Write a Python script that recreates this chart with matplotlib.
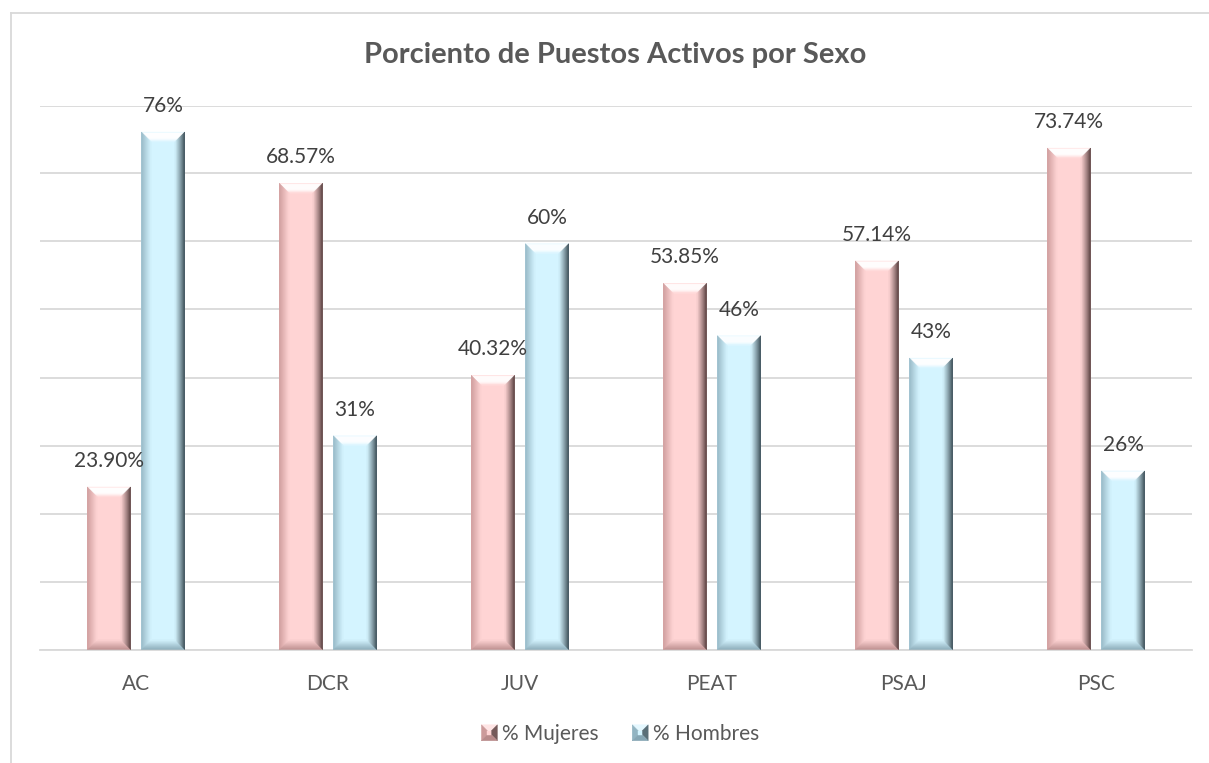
import numpy as np
import matplotlib.pyplot as plt
import matplotlib.colors as mcolors
from matplotlib.patches import Polygon
from matplotlib.lines import Line2D
from matplotlib.legend_handler import HandlerBase

###############################################################################
### Datos
###############################################################################

categorias = ['AC', 'DCR', 'JUV', 'PEAT', 'PSAJ', 'PSC']
mujeres = [23.90, 68.57, 40.32, 53.85, 57.14, 73.74]
hombres = [76.10, 31.43, 59.68, 46.15, 42.86, 26.26]
etiq_mujeres = ['23.90%', '68.57%', '40.32%', '53.85%', '57.14%', '73.74%']
etiq_hombres = ['76%', '31%', '60%', '46%', '43%', '26%']

# colores del bisel: cara, arriba, izquierda, derecha, abajo
col_muj = dict(face='#FFD4D4', top='#FFFFFF', left='#CC9A9A', right='#3A2626', bottom='#B88A8A')
col_hom = dict(face='#D4F4FF', top='#FFFFFF', left='#92B4C2', right='#26363E', bottom='#86A6B4')

plt.rcParams['font.family'] = ['Lato', 'DejaVu Sans']
gris = '#595959'
grid_col = '#D9D9D9'

fig = plt.figure(figsize=(12.09, 7.63), dpi=100)
W, H = 1209, 763
ax = fig.add_axes([40 / W, 1 - 649.5 / H, 1152 / W, 544 / H])

x = np.arange(len(categorias))
ancho = 0.226
desp = 0.141

b1 = ax.bar(x - desp, mujeres, ancho, color=col_muj['face'], zorder=2)
b2 = ax.bar(x + desp, hombres, ancho, color=col_hom['face'], zorder=2)

ax.set_xlim(-0.5, 5.5)
ax.set_ylim(0, 80)
ax.set_yticks(np.arange(0, 81, 10))
ax.yaxis.grid(True, color=grid_col, linewidth=1.3)
ax.set_axisbelow(True)
ax.tick_params(axis='y', left=False, labelleft=False)
ax.tick_params(axis='x', bottom=False, labelsize=15, labelcolor=gris, pad=14)
ax.set_xticks(x)
ax.set_xticklabels(categorias)
for s in ['top', 'right', 'left']:
    ax.spines[s].set_visible(False)
ax.spines['bottom'].set_color(grid_col)
ax.spines['bottom'].set_linewidth(1.3)


def mezcla(c1, c2, f):
    a = np.array(mcolors.to_rgb(c1))
    b = np.array(mcolors.to_rgb(c2))
    return tuple(a * (1 - f) + b * f)


def bisel(ax, rect, cols, b_px=10, n=10):
    bb = ax.get_window_extent()
    sx = (ax.get_xlim()[1] - ax.get_xlim()[0]) / bb.width
    sy = (ax.get_ylim()[1] - ax.get_ylim()[0]) / bb.height
    x0, y0 = rect.get_x(), rect.get_y()
    x1, y1 = x0 + rect.get_width(), y0 + rect.get_height()
    for k in range(n):
        t0, t1 = k / n, (k + 1) / n
        ox, oy = b_px * sx * t0, b_px * sy * t0
        ix, iy = b_px * sx * t1, b_px * sy * t1
        f = (k + 0.5) / n
        lados = {
            'top': [(x0 + ox, y1 - oy), (x1 - ox, y1 - oy), (x1 - ix, y1 - iy), (x0 + ix, y1 - iy)],
            'bottom': [(x0 + ox, y0 + oy), (x1 - ox, y0 + oy), (x1 - ix, y0 + iy), (x0 + ix, y0 + iy)],
            'left': [(x0 + ox, y0 + oy), (x0 + ox, y1 - oy), (x0 + ix, y1 - iy), (x0 + ix, y0 + iy)],
            'right': [(x1 - ox, y0 + oy), (x1 - ox, y1 - oy), (x1 - ix, y1 - iy), (x1 - ix, y0 + iy)],
        }
        for lado, pts in lados.items():
            if lado == 'top':
                if k == 0:
                    c = mezcla(cols['face'], '#FFFFFF', 0.5)
                else:
                    c = mezcla(cols['top'], cols['face'], max(0, (f - 0.6) / 0.4) ** 1.5)
            elif lado == 'right':
                c = mezcla(cols['right'], cols['face'], f ** 0.8)
            else:
                c = mezcla(cols[lado], cols['face'], f)
            ax.add_patch(Polygon(pts, closed=True, facecolor=c, edgecolor=c,
                                 linewidth=0.3, zorder=3))


for r in b1:
    bisel(ax, r, col_muj)
for r in b2:
    bisel(ax, r, col_hom)

# etiquetas de datos
for xi, v, t in zip(x - desp, mujeres, etiq_mujeres):
    ax.annotate(t, (xi, v), xytext=(0, 26), textcoords='offset pixels',
                ha='center', va='center', fontsize=15, color='#404040', zorder=5)
for xi, v, t in zip(x + desp, hombres, etiq_hombres):
    ax.annotate(t, (xi, v), xytext=(0, 26), textcoords='offset pixels',
                ha='center', va='center', fontsize=15, color='#404040', zorder=5)

fig.text(615 / W, 1 - 55 / H, 'Porciento de Puestos Activos por Sexo',
         ha='center', va='center', fontsize=21, fontweight='bold', color=gris)


class HandlerBisel(HandlerBase):
    def create_artists(self, legend, orig_handle, xdescent, ydescent,
                       width, height, fontsize, trans):
        cols = orig_handle.cols
        s = min(width, height)
        x0 = -xdescent + (width - s) / 2
        y0 = -ydescent + (height - s) / 2
        x1, y1 = x0 + s, y0 + s
        cx, cy = x0 + s / 2, y0 + s / 2
        g = s * 0.12
        tris = [
            ([(x0, y1), (x1, y1), (cx + g, cy + g), (cx - g, cy + g)], mezcla(cols['face'], '#FFFFFF', 0.4)),
            ([(x0, y0), (x0, y1), (cx - g, cy + g), (cx - g, cy - g)], cols['left']),
            ([(x1, y0), (x1, y1), (cx + g, cy + g), (cx + g, cy - g)], mezcla(cols['right'], cols['face'], 0.3)),
            ([(x0, y0), (x1, y0), (cx + g, cy - g), (cx - g, cy - g)], cols['bottom']),
            ([(cx - g, cy - g), (cx + g, cy - g), (cx + g, cy + g), (cx - g, cy + g)], cols['face']),
        ]
        arts = []
        for pts, c in tris:
            p = Polygon(pts, closed=True, facecolor=c, edgecolor=c, linewidth=0.3, transform=trans)
            arts.append(p)
        return arts


class Marca:
    def __init__(self, cols):
        self.cols = cols


h1, h2 = Marca(col_muj), Marca(col_hom)
fig.legend([h1, h2], ['% Mujeres', '% Hombres'],
           handler_map={Marca: HandlerBisel()},
           loc='center', bbox_to_anchor=(620 / W, 1 - 734 / H), ncol=2,
           frameon=False, fontsize=15, labelcolor=gris,
           handlelength=0.8, handleheight=0.8, handletextpad=0.2, columnspacing=1.6)

# marco del grafico (solo borde superior e izquierdo visibles)
fig.add_artist(Line2D([10.5 / W, 10.5 / W], [0, 1 - 12.5 / H], color=grid_col, linewidth=1.3))
fig.add_artist(Line2D([10.5 / W, 1], [1 - 12.5 / H, 1 - 12.5 / H], color=grid_col, linewidth=1.3))

fig.savefig('out.png', dpi=100)
